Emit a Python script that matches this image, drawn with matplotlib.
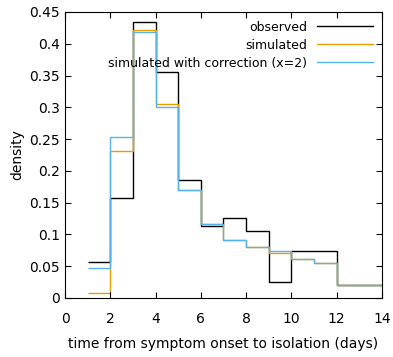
import matplotlib
matplotlib.use("Agg")
import matplotlib.pyplot as plt

# bin edges (days) and the three histograms
edges = [1, 2, 3, 4, 5, 6, 7, 8, 9, 10, 11, 12, 13, 14]
observed = [0.0573, 0.158, 0.435, 0.356, 0.186, 0.114, 0.126, 0.105,
            0.0245, 0.074, 0.074, 0.0208, 0.0208]
model = [0.0078, 0.232, 0.421, 0.306, 0.170, 0.1167, 0.0906, 0.080,
         0.071, 0.062, 0.0547, 0.0208, 0.0208]
model_corr = [0.0469, 0.2526, 0.418, 0.300, 0.170, 0.1167, 0.0906, 0.080,
              0.0745, 0.062, 0.0547, 0.0208, 0.0208]

labels = ["observed", "simulated", "simulated with correction (x=2)"]
xticks = [0, 2, 4, 6, 8, 10, 12, 14]
yticks = [0, 0.05, 0.1, 0.15, 0.2, 0.25, 0.3, 0.35, 0.4, 0.45]

fig = plt.figure(figsize=(3.93, 3.57), dpi=100)
ax = fig.add_axes([0.1654, 0.1653, 0.8066, 0.8011])

ax.stairs(observed, edges, baseline=None, color='black', lw=1.0, label=labels[0])
ax.stairs(model, edges, baseline=None, color='#e69f00', lw=1.0, label=labels[1])
ax.stairs(model_corr, edges, baseline=None, color='#56b4e9', lw=1.0, label=labels[2])

ax.set_xlim(0, 14)
ax.set_ylim(0, 0.45)
ax.set_xticks(xticks)
ax.set_yticks(yticks)
ax.set_xticklabels([str(t) for t in xticks])
ax.set_yticklabels([f"{t:g}" for t in yticks])
ax.tick_params(direction='in', top=True, right=True, labelsize=10, length=4)
ax.tick_params(axis='x', pad=10)
for s in ax.spines.values():
    s.set_linewidth(0.8)

ax.set_xlabel("time from symptom onset to isolation (days)", fontsize=10, labelpad=8)
ax.set_ylabel("density", fontsize=10)

leg = ax.legend(loc='upper right', frameon=False, fontsize=9, markerfirst=False,
                handlelength=4.5, borderaxespad=0.3, labelspacing=0.4)
for t in leg.get_texts():
    t.set_ha('right')

fig.savefig("out.png", dpi=100)
